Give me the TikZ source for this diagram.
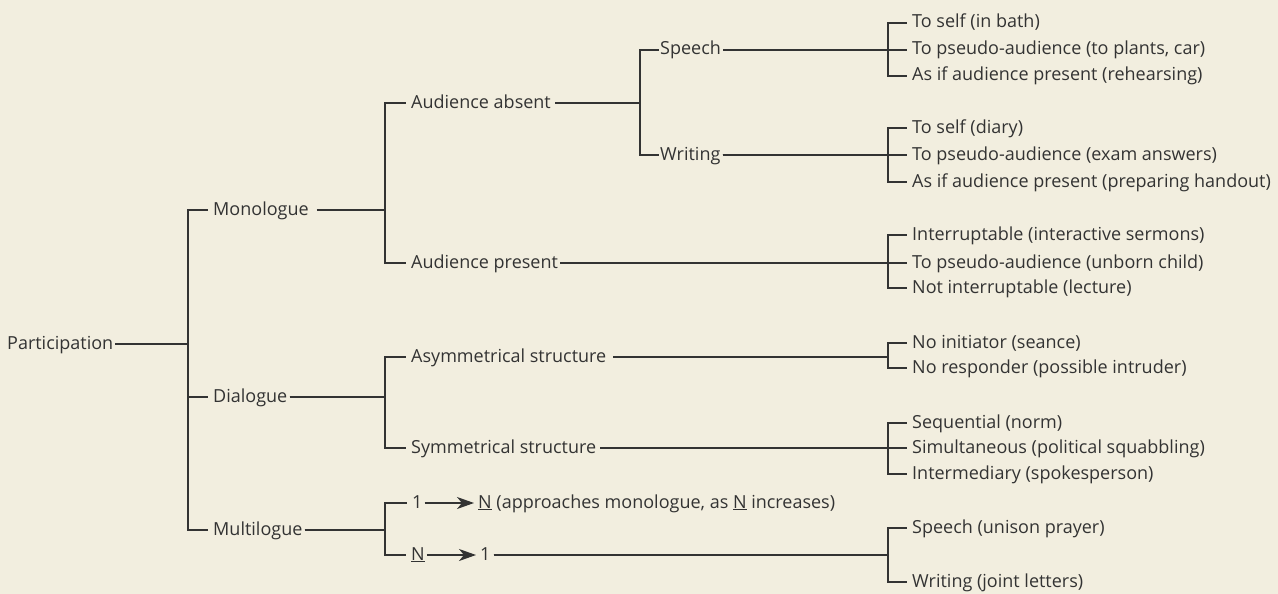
\documentclass[tikz,border=0pt]{standalone}
\usepackage{fontspec}
\setmainfont{Open Sans}
\usetikzlibrary{arrows.meta,positioning}
\definecolor{paper}{HTML}{F2EEDF}
\definecolor{ink}{HTML}{333333}

\begin{document}
\begin{tikzpicture}[x=1pt, y=-1pt,
        every node/.style={anchor=west, inner sep=0pt, text height=13pt, text depth=3pt,
            font=\fontsize{18}{21}\selectfont, text=ink},
        link/.style={draw=ink, line width=1.3pt, shorten <=2pt, shorten >=5pt},
        tip/.style={draw=ink, line width=1.3pt, shorten <=2pt, shorten >=4pt,
            -{Stealth[length=17pt, width=12pt, inset=5pt]}}
    ]
        \fill[paper] (0,0) rectangle (1278,594);

        % junction columns
        \coordinate (j0) at (188,0);
        \coordinate (j1) at (385,0);
        \coordinate (j2) at (640,0);
        \coordinate (j3) at (888,0);

        \node (part) at (7,344) {Participation};
        \node (mono) at (213,210) {Monologue};
        \node (dia) at (213,397) {Dialogue};
        \node (multi) at (213,530) {Multilogue};

        % monologue
        \node (absent) at (411,103) {Audience absent};
        \node (present) at (411,263) {Audience present};
        \node (speech) at (660,50) {Speech};
        \node (writing) at (660,155) {Writing};
        \node (s1) at (912,23) {To self (in bath)};
        \node (s2) at (912,50) {To pseudo-audience (to plants, car)};
        \node (s3) at (912,76) {As if audience present (rehearsing)};
        \node (w1) at (912,128) {To self (diary)};
        \node (w2) at (912,155) {To pseudo-audience (exam answers)};
        \node (w3) at (912,182) {As if audience present (preparing handout)};
        \node (p1) at (912,235) {Interruptable (interactive sermons)};
        \node (p2) at (912,263) {To pseudo-audience (unborn child)};
        \node (p3) at (912,288) {Not interruptable (lecture)};

        % dialogue
        \node (asym) at (411,357) {Asymmetrical structure};
        \node (sym) at (411,448) {Symmetrical structure};
        \node (a1) at (912,343) {No initiator (seance)};
        \node (a2) at (912,368) {No responder (possible intruder)};
        \node (y1) at (912,423) {Sequential (norm)};
        \node (y2) at (912,448) {Simultaneous (political squabbling)};
        \node (y3) at (912,474) {Intermediary (spokesperson)};

        % multilogue
        \node (one) at (412,503) {1};
        \node (many) at (478,503) {\underline{N} (approaches monologue, as \underline{N} increases)};
        \node (manyb) at (411,555) {\underline{N}};
        \node (oneb) at (480,555) {1};
        \node (m1) at (912,528) {Speech (unison prayer)};
        \node (m2) at (912,582) {Writing (joint letters)};

        \foreach \k in {mono,dia,multi}
            \draw[link] (part.east) -- (part.east -| j0) |- (\k.west);

        \foreach \k in {absent,present}
            \draw[link, shorten <=8pt] (mono.east) -- (mono.east -| j1) |- (\k.west);
        \foreach \k in {asym,sym}
            \draw[link] (dia.east) -- (dia.east -| j1) |- (\k.west);
        \foreach \k in {one,manyb}
            \draw[link] (multi.east) -- (multi.east -| j1) |- (\k.west);

        \foreach \k in {speech,writing}
            \draw[link, shorten <=4pt, shorten >=1pt] (absent.east) -- (absent.east -| j2) |- (\k.west);
        \foreach \k in {s1,s2,s3}
            \draw[link] (speech.east) -- (speech.east -| j3) |- (\k.west);
        \foreach \k in {w1,w2,w3}
            \draw[link] (writing.east) -- (writing.east -| j3) |- (\k.west);
        \foreach \k in {p1,p2,p3}
            \draw[link] (present.east) -- (present.east -| j3) |- (\k.west);

        \foreach \k in {a1,a2}
            \draw[link, shorten <=7pt] (asym.east) -- (asym.east -| j3) |- (\k.west);
        \foreach \k in {y1,y2,y3}
            \draw[link, shorten <=4pt] (sym.east) -- (sym.east -| j3) |- (\k.west);

        \draw[tip] (one) -- (many);
        \draw[tip] (manyb) -- (oneb);
        \foreach \k in {m1,m2}
            \draw[link, shorten <=3pt] (oneb.east) -- (oneb.east -| j3) |- (\k.west);
    \end{tikzpicture}
\end{document}
